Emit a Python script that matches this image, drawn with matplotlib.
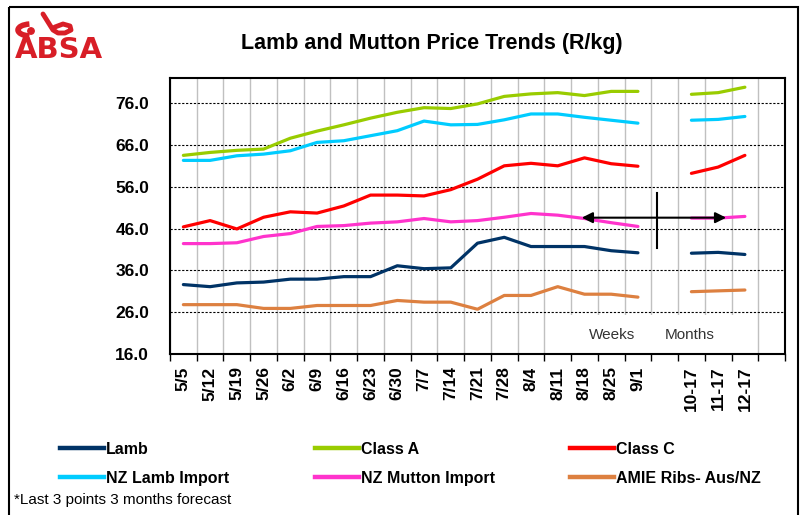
import matplotlib
matplotlib.use('Agg')
import matplotlib.pyplot as plt
from matplotlib.lines import Line2D
from matplotlib.patches import Rectangle, Arc, Circle
import numpy as np

plt.rcParams['font.family'] = ['Liberation Sans', 'DejaVu Sans']

nan = np.nan

# Categories: 18 weekly points, a gap, 3 monthly forecast points, a gap
dates = ['5/5', '5/12', '5/19', '5/26', '6/2', '6/9', '6/16', '6/23', '6/30',
         '7/7', '7/14', '7/21', '7/28', '8/4', '8/11', '8/18', '8/25', '9/1',
         '', '10-17', '11-17', '12-17', '']

lamb      = [32.6, 32.1, 33.0, 33.2, 33.9, 33.9, 34.5, 34.5, 37.1, 36.4, 36.6,
             42.5, 43.9, 41.7, 41.7, 41.7, 40.7, 40.2, nan, 40.1, 40.3, 39.8, nan]
class_a   = [63.5, 64.2, 64.7, 65.0, 67.6, 69.3, 70.8, 72.4, 73.8, 74.9, 74.7,
             75.8, 77.6, 78.2, 78.5, 77.8, 78.8, 78.8, nan, 78.1, 78.5, 79.8, nan]
class_c   = [46.4, 47.9, 45.9, 48.7, 50.0, 49.7, 51.4, 54.0, 54.0, 53.8, 55.3,
             57.8, 61.0, 61.6, 61.0, 62.9, 61.5, 60.9, nan, 59.2, 60.7, 63.5, nan]
nz_lamb   = [62.3, 62.3, 63.4, 63.8, 64.6, 66.6, 67.0, 68.2, 69.4, 71.7, 70.8,
             70.9, 72.0, 73.4, 73.4, 72.6, 71.9, 71.2, nan, 71.9, 72.1, 72.8, nan]
nz_mutton = [42.4, 42.4, 42.6, 44.1, 44.8, 46.5, 46.7, 47.3, 47.6, 48.4, 47.6,
             47.9, 48.7, 49.6, 49.2, 48.4, 47.4, 46.5, nan, 48.5, 48.5, 48.9, nan]
amie      = [27.8, 27.8, 27.8, 26.9, 26.9, 27.6, 27.6, 27.6, 28.8, 28.4, 28.4,
             26.7, 30.0, 30.0, 32.1, 30.3, 30.3, 29.6, nan, 30.9, 31.1, 31.3, nan]

names  = ['Lamb', 'Class A', 'Class C', 'NZ Lamb Import', 'NZ Mutton Import',
          'AMIE Ribs- Aus/NZ']
series = [lamb, class_a, class_c, nz_lamb, nz_mutton, amie]
colors = ['#003366', '#99cc00', '#ff0000', '#00ccff', '#ff33cc', '#dd8040']

yticks = np.arange(16, 77, 10)

W, H = 805, 515
fig = plt.figure(figsize=(W/100, H/100), dpi=100)

#
# Main plot area (pixel box 170..785 x 78..354)
#
ax = fig.add_axes([170/W, 1 - 354/H, 615/W, 276/H])
x = np.arange(len(dates))
for s, c, n in zip(series, colors, names):
    ax.plot(x, s, color=c, lw=2.3, label=n, zorder=3, solid_capstyle='round')

ax.set_xlim(-0.5, len(dates) - 0.5)
ax.set_ylim(16, 82)

ax.set_xticks(x)
ax.set_xticklabels(dates, rotation=90, fontsize=12.5, fontweight='bold')
ax.set_xticks(np.arange(len(dates) + 1) - 0.5, minor=True)
ax.tick_params(axis='x', which='major', length=0, pad=9)
ax.tick_params(axis='x', which='minor', length=5, width=1, direction='out')

ax.set_yticks(yticks)
ax.set_yticklabels(['%.1f' % v for v in yticks], fontsize=12.5,
                   fontweight='bold')
ax.tick_params(axis='y', length=0, pad=15)

ax.grid(True, axis='x', which='minor', color='#c0c0c0', lw=1)
ax.grid(True, axis='y', which='major', color='black', lw=0.8,
        linestyle=(0, (2, 1.5)))
ax.set_axisbelow(True)
for sp in ax.spines.values():
    sp.set_linewidth(1.5)
    sp.set_color('black')

# white box behind the Weeks / Months labels
ax.add_patch(Rectangle((14.27, 16), 6.9, 9.3, facecolor='white',
                       edgecolor='none', zorder=1))
ax.text(16.03, 20.5, 'Weeks', ha='center', va='center', fontsize=11,
        color='#333333', zorder=2)
ax.text(18.95, 20.5, 'Months', ha='center', va='center', fontsize=11,
        color='#333333', zorder=2)

# weeks / months divider and arrow
arrow_y, arrow_x0, arrow_x1 = 48.6, 14.9, 20.3
div_x, div_y0, div_y1 = 17.7, 41.4, 54.5
ax.annotate('', xy=(arrow_x0, arrow_y), xytext=(arrow_x1, arrow_y),
            arrowprops=dict(arrowstyle='<|-|>', color='black', lw=1.5,
                            mutation_scale=16, shrinkA=0, shrinkB=0),
            zorder=4)
ax.plot([div_x, div_x], [div_y0, div_y1], color='black', lw=1.5, zorder=4)

#
# Title and footnote
#
fig.text(432/W, 1 - 44/H, 'Lamb and Mutton Price Trends (R/kg)', ha='center',
         va='center', fontsize=15.5, fontweight='bold')
fig.text(14/W, 1 - 500/H, '*Last 3 points 3 months forecast', ha='left',
         va='center', fontsize=11)

#
# Legend: three columns of two rows
#
handles = [Line2D([], [], color=c, lw=3.2) for c in colors]
for col, xpx in enumerate([60, 315, 570]):
    idx = [col, col + 3]
    fig.legend([handles[i] for i in idx], [names[i] for i in idx],
               loc='upper left', bbox_to_anchor=(xpx/W, 1 - 442/H),
               frameon=False, ncol=1, handlelength=2.75, handletextpad=0.15,
               labelspacing=0.85, borderpad=0, borderaxespad=0,
               prop={'weight': 'bold', 'size': 11.5})

#
# Overlay for outer frame and ABSA logo (pixel coordinates)
#
ov = fig.add_axes([0, 0, 1, 1], zorder=-1)
ov.set_xlim(0, W)
ov.set_ylim(H, 0)
ov.axis('off')
ov.add_patch(Rectangle((9, 7), 789, 520, fill=False, edgecolor='black', lw=1.5))

red = '#d81e27'
ov.add_patch(Arc((31, 30), 26, 12, theta1=105, theta2=255, color=red, lw=4))
ov.add_patch(Circle((31, 31), 3.2, color=red))
ov.plot([43, 48, 53, 58, 65, 71, 70, 63, 55],
        [14, 22, 30, 33, 33, 30, 26, 24, 27],
        color=red, lw=3.5, solid_capstyle='round', solid_joinstyle='round')
ov.text(15, 50, 'ABSA', color=red, fontsize=21, fontweight='bold',
        family='DejaVu Sans', ha='left', va='center')

fig.savefig('out.png', dpi=100)
